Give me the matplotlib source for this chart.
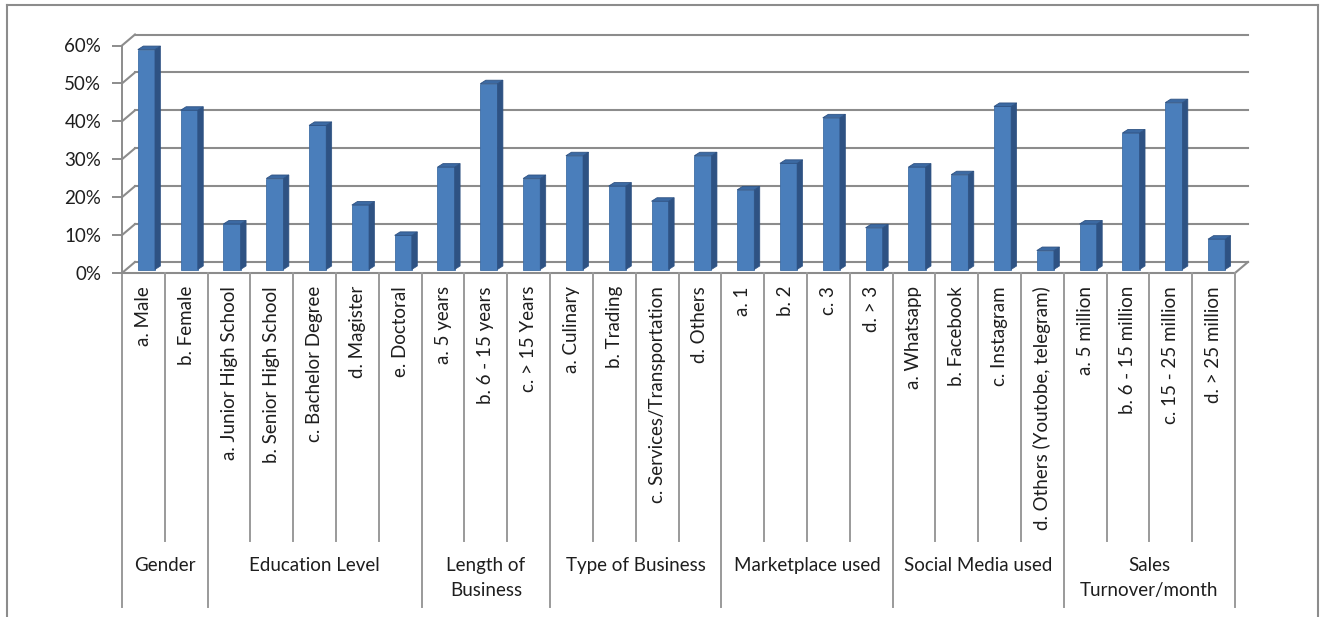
import matplotlib
matplotlib.use("Agg")
import matplotlib.pyplot as plt
from matplotlib.patches import Polygon
from matplotlib.lines import Line2D
from matplotlib.transforms import blended_transform_factory
import numpy as np

plt.rcParams['font.family'] = ['Lato', 'DejaVu Sans']

groups = ["Gender", "Education Level", "Length of\nBusiness", "Type of Business",
          "Marketplace used", "Social Media used", "Sales\nTurnover/month"]
group_items = [
    ["a. Male", "b. Female"],
    ["a. Junior High School", "b. Senior High School", "c. Bachelor Degree", "d. Magister", "e. Doctoral"],
    ["a. 5 years", "b. 6 - 15 years", "c. > 15 Years"],
    ["a. Culinary", "b. Trading", "c. Services/Transportation", "d. Others"],
    ["a. 1", "b. 2", "c. 3", "d. > 3"],
    ["a. Whatsapp", "b. Facebook", "c. Instagram", "d. Others (Youtobe, telegram)"],
    ["a. 5 million", "b. 6 - 15 million", "c. 15 - 25 million", "d. > 25 million"],
]
gender_vals = [0.58, 0.42]
education_vals = [0.12, 0.24, 0.38, 0.17, 0.09]
length_vals = [0.27, 0.49, 0.24]
type_vals = [0.30, 0.22, 0.18, 0.30]
market_vals = [0.21, 0.28, 0.40, 0.11]
social_vals = [0.27, 0.25, 0.43, 0.05]
sales_vals = [0.12, 0.36, 0.44, 0.08]
y_ticks = [0.0, 0.1, 0.2, 0.3, 0.4, 0.5, 0.6]
y_labels = ["0%", "10%", "20%", "30%", "40%", "50%", "60%"]

values = gender_vals + education_vals + length_vals + type_vals + market_vals + social_vals + sales_vals
labels = [l for g in group_items for l in g]
n = len(values)

W, H = 1325, 617
fig = plt.figure(figsize=(W / 100, H / 100), dpi=100)
fig.patch.set_facecolor("white")

x0, x1 = 122, 1235
y0, y1 = 273, 45.5
ax = fig.add_axes([x0 / W, 1 - y0 / H, (x1 - x0) / W, (y0 - y1) / H])
ax.set_xlim(0, n)
ax.set_ylim(0, 0.6)
ax.patch.set_alpha(0)
for s in ["top", "right", "bottom"]:
    ax.spines[s].set_visible(False)
ax.spines["left"].set_color("#8c8c8c")
ax.spines["left"].set_linewidth(1.4)
ax.set_xticks([])
ax.set_yticks(y_ticks)
txt_c = "#1e1e1e"
ax.set_yticklabels(y_labels, fontsize=13.5, color=txt_c)
ax.tick_params(axis="y", length=7, width=1.4, color="#8c8c8c", pad=8)

# depth offsets (data units)
ppx = (x1 - x0) / n
ppy = (y0 - y1) / 0.6
DX, DY = 13 / ppx, 11 / ppy
grid_c = "#8c8c8c"

# back wall gridlines and side-wall diagonals
for t in y_ticks:
    ax.plot([DX, n + DX], [t + DY, t + DY], color=grid_c, lw=1.5, clip_on=False, zorder=1)
    ax.plot([0, DX], [t, t + DY], color=grid_c, lw=1.5, clip_on=False, zorder=1)
# floor
ax.plot([0, n], [0, 0], color=grid_c, lw=1.5, clip_on=False, zorder=1)
ax.plot([n, n + DX], [0, DY], color=grid_c, lw=1.5, clip_on=False, zorder=1)

# bars
bw = 0.4
bx, by = 3 / ppx, 3.5 / ppy
sdx, sdy = 5.5 / ppx, 3.5 / ppy
front_c, side_c = "#4A7EBB", "#2E5283"
xs = np.arange(n) + 0.5 + bx
ax.bar(xs, values, width=bw, bottom=by, color=front_c, edgecolor="#3f6ea6",
       linewidth=0.6, zorder=3, clip_on=False)
for xc, v in zip(xs, values):
    r = xc + bw / 2
    l = xc - bw / 2
    side = Polygon([(r, by), (r + sdx, by + sdy), (r + sdx, by + v + sdy), (r, by + v)],
                   closed=True, facecolor=side_c, edgecolor=side_c, lw=0.5, zorder=3, clip_on=False)
    top = Polygon([(l, by + v), (l + sdx, by + v + sdy), (r + sdx, by + v + sdy), (r, by + v)],
                  closed=True, facecolor="#3c6aa3", edgecolor="#2E5283", lw=0.6, zorder=4, clip_on=False)
    ax.add_patch(side)
    ax.add_patch(top)

# category axis (multi-level)
tr = blended_transform_factory(ax.transData, ax.transAxes)
ax_h = y0 - y1
def fy(py):
    return (y0 - py) / ax_h

inner_bottom = fy(541)
outer_bottom = fy(607)
label_top = fy(286)
group_top = fy(557)
sep_c = "#9a9a9a"

starts = np.cumsum([0] + [len(g) for g in group_items])
for i in range(n + 1):
    is_group = i in starts
    ax.add_line(Line2D([i, i], [0, outer_bottom if is_group else inner_bottom],
                       transform=tr, color=sep_c, lw=1.4, clip_on=False))
for i, lab in enumerate(labels):
    ax.text(i + 0.5, label_top, lab, transform=tr, rotation=90, ha="center", va="top",
            fontsize=13.5, color=txt_c, clip_on=False)
for g, gname in enumerate(groups):
    c = (starts[g] + starts[g + 1]) / 2
    ax.text(c, group_top, gname, transform=tr, ha="center", va="top", fontsize=13.5,
            color=txt_c, multialignment="center", linespacing=1.55, clip_on=False)

# outer chart border
bc = "#8c8c8c"
fig.add_artist(Line2D([7 / W, 7 / W], [0, 1 - 5 / H], transform=fig.transFigure, color=bc, lw=1.5))
fig.add_artist(Line2D([7 / W, 1318 / W], [1 - 5 / H, 1 - 5 / H], transform=fig.transFigure, color=bc, lw=1.5))
fig.add_artist(Line2D([1318 / W, 1318 / W], [0, 1 - 5 / H], transform=fig.transFigure, color=bc, lw=1.5))

fig.savefig("out.png", dpi=100, facecolor="white")
